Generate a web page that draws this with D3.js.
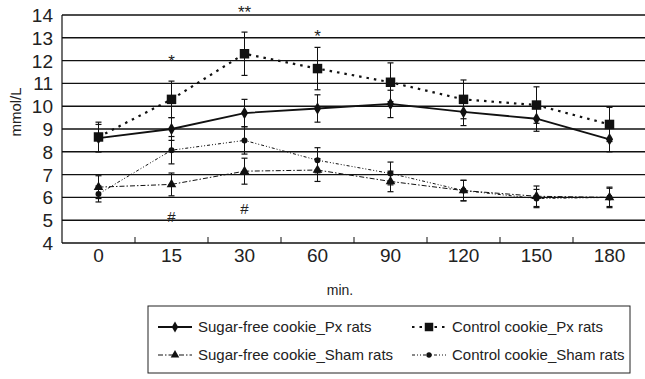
<!DOCTYPE html>
<html>
<head>
<meta charset="utf-8">
<script src="https://cdn.jsdelivr.net/npm/d3@7"></script>
<style>
  body { margin: 0; background: #fff; }
  text { font-family: "Liberation Sans", Arial, sans-serif; fill: #222; }
</style>
</head>
<body>
<svg id="chart"></svg>
<script>
// time points (min.)
const times = ["0", "15", "30", "60", "90", "120", "150", "180"];
const yTicks = [4, 5, 6, 7, 8, 9, 10, 11, 12, 13, 14];

// means and SD, mmol/L
const sugarPx = [8.6, 9.0, 9.7, 9.9, 10.1, 9.75, 9.45, 8.55];
const sugarPxErr = [0.6, 0.5, 0.6, 0.6, 0.6, 0.6, 0.55, 0.55];
const controlPx = [8.65, 10.3, 12.3, 11.65, 11.05, 10.3, 10.05, 9.2];
const controlPxErr = [0.65, 0.8, 0.95, 0.93, 0.85, 0.85, 0.8, 0.75];
const sugarSham = [6.45, 6.57, 7.15, 7.2, 6.7, 6.3, 6.05, 6.0];
const sugarShamErr = [0.5, 0.5, 0.57, 0.5, 0.45, 0.45, 0.45, 0.45];
const controlSham = [6.15, 8.07, 8.5, 7.63, 7.05, 6.3, 5.95, 6.0];
const controlShamErr = [0.35, 0.6, 0.6, 0.55, 0.5, 0.45, 0.4, 0.4];

const seriesNames = ["Sugar-free cookie_Px rats", "Control cookie_Px rats",
                     "Sugar-free cookie_Sham rats", "Control cookie_Sham rats"];

// significance marks
const marks = [
  { t: "15", v: 12.0, s: "*" },
  { t: "30", v: 14.15, s: "**" },
  { t: "60", v: 13.1, s: "*" },
  { t: "15", v: 5.2, s: "#" },
  { t: "30", v: 5.55, s: "#" }
];

const W = 645, H = 379;
const svg = d3.select("#chart").attr("width", W).attr("height", H);

const x = d3.scaleBand().domain(times).range([62, 646]);
const y = d3.scaleLinear().domain([4, 14]).range([243, 15]);
const cx = t => x(t) + x.bandwidth() / 2;

// gridlines
svg.append("g")
  .selectAll("line")
  .data(yTicks.slice(1))
  .enter().append("line")
  .attr("x1", 62).attr("x2", 646)
  .attr("y1", d => y(d)).attr("y2", d => y(d))
  .attr("stroke", "#111").attr("stroke-width", 1.4);

// axes frame
svg.append("line").attr("x1", 62).attr("x2", 62).attr("y1", y(14)).attr("y2", y(4))
  .attr("stroke", "#111").attr("stroke-width", 1.2);
svg.append("line").attr("x1", 62).attr("x2", 646).attr("y1", y(4)).attr("y2", y(4))
  .attr("stroke", "#111").attr("stroke-width", 1.4);

// x ticks between categories
svg.append("g")
  .selectAll("line")
  .data(times.slice(1))
  .enter().append("line")
  .attr("x1", d => x(d)).attr("x2", d => x(d))
  .attr("y1", y(4)).attr("y2", y(4) - 6)
  .attr("stroke", "#111").attr("stroke-width", 1);

// y tick labels
svg.append("g")
  .selectAll("text")
  .data(yTicks)
  .enter().append("text")
  .attr("x", 53).attr("y", d => y(d) + 7)
  .attr("text-anchor", "end")
  .attr("font-size", 19)
  .text(d => d);

// x tick labels
svg.append("g")
  .selectAll("text")
  .data(times)
  .enter().append("text")
  .attr("x", d => cx(d)).attr("y", 262)
  .attr("text-anchor", "middle")
  .attr("font-size", 19)
  .text(d => d);

svg.append("text")
  .attr("transform", "translate(21,112) rotate(-90)")
  .attr("text-anchor", "middle")
  .attr("font-size", 15)
  .text("mmol/L");

svg.append("text")
  .attr("x", 340).attr("y", 295)
  .attr("text-anchor", "middle")
  .attr("font-size", 14)
  .text("min.");

// series definitions
const series = [
  { name: seriesNames[0], vals: sugarPx, err: sugarPxErr, dash: null, width: 1.8, sym: d3.symbolDiamond, size: 45 },
  { name: seriesNames[1], vals: controlPx, err: controlPxErr, dash: "2.5,5", width: 2.2, sym: d3.symbolSquare, size: 90 },
  { name: seriesNames[2], vals: sugarSham, err: sugarShamErr, dash: "5,2,1.5,2", width: 1, sym: d3.symbolTriangle, size: 40 },
  { name: seriesNames[3], vals: controlSham, err: controlShamErr, dash: "3,2,1,2,1,2", width: 1, sym: d3.symbolCircle, size: 28 }
];

const line = d3.line().x(d => cx(d.t)).y(d => y(d.v));

series.forEach(s => {
  const pts = times.map((t, i) => ({ t: t, v: s.vals[i], e: s.err[i] }));
  const g = svg.append("g");

  // error bars
  const eb = g.selectAll("g.err").data(pts).enter().append("g");
  eb.append("line")
    .attr("x1", d => cx(d.t)).attr("x2", d => cx(d.t))
    .attr("y1", d => y(d.v - d.e)).attr("y2", d => y(d.v + d.e))
    .attr("stroke", "#111").attr("stroke-width", 1);
  [-1, 1].forEach(k => {
    eb.append("line")
      .attr("x1", d => cx(d.t) - 3).attr("x2", d => cx(d.t) + 3)
      .attr("y1", d => y(d.v + k * d.e)).attr("y2", d => y(d.v + k * d.e))
      .attr("stroke", "#111").attr("stroke-width", 1.2);
  });

  g.append("path")
    .datum(pts)
    .attr("d", line)
    .attr("fill", "none")
    .attr("stroke", "#111")
    .attr("stroke-width", s.width)
    .attr("stroke-dasharray", s.dash);

  g.selectAll("path.pt").data(pts).enter().append("path")
    .attr("transform", d => `translate(${cx(d.t)},${y(d.v)})`)
    .attr("d", d3.symbol().type(s.sym).size(s.size))
    .attr("fill", "#111");
});

// significance marks
svg.append("g")
  .selectAll("text")
  .data(marks)
  .enter().append("text")
  .attr("x", d => cx(d.t)).attr("y", d => y(d.v) + 6)
  .attr("text-anchor", "middle")
  .attr("font-size", d => d.s === "#" ? 15 : 17)
  .text(d => d.s);

// legend
const lg = svg.append("g");
lg.append("rect")
  .attr("x", 148).attr("y", 306).attr("width", 482).attr("height", 67)
  .attr("fill", "#fff").attr("stroke", "#222").attr("stroke-width", 1);

const legPos = [[158, 327], [412, 327], [158, 355], [412, 355]];
series.forEach((s, i) => {
  const [lx, ly] = legPos[i];
  lg.append("line")
    .attr("x1", lx).attr("x2", lx + 34).attr("y1", ly).attr("y2", ly)
    .attr("stroke", "#111").attr("stroke-width", s.width)
    .attr("stroke-dasharray", s.dash);
  lg.append("path")
    .attr("transform", `translate(${lx + 17},${ly})`)
    .attr("d", d3.symbol().type(s.sym).size(s.size * 0.8))
    .attr("fill", "#111");
  lg.append("text")
    .attr("x", lx + 40).attr("y", ly + 5)
    .attr("font-size", 15)
    .text(s.name);
});
</script>
</body>
</html>
